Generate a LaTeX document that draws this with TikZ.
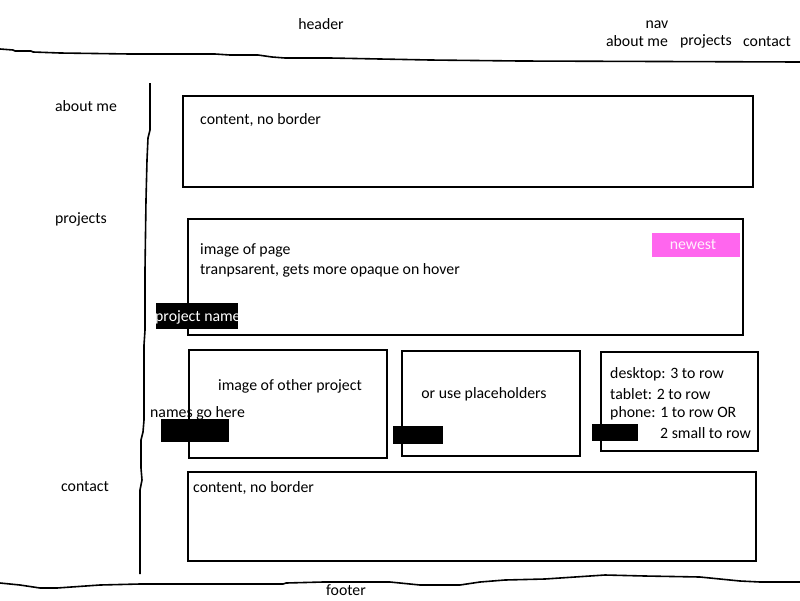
\documentclass[tikz,border=0pt]{standalone}
\usepackage{fontspec}
\setmainfont{Carlito}
\usepackage{tikz}

\definecolor{pinknew}{RGB}{255,102,238}

\tikzset{
  txt/.style={inner sep=0pt, yshift=-1.5pt, font=\fontsize{15.8}{19}\selectfont},
  lefttxt/.style={txt, anchor=west},
  box/.style={draw=black, line width=2pt},
  sketch/.style={line width=1.6pt, line join=round}
}

\begin{document}
\begin{tikzpicture}[x=1pt,y=-1pt]
    \useasboundingbox (0,0) rectangle (800,600);

    % header and nav
    \node[txt] (header) at (321,23) {header};
    \node[txt] (nav) at (657,23) {nav};
    \node[txt] (navabout) at (637,40) {about me};
    \node[txt] (navproj) at (706,40) {projects};
    \node[txt] (navcont) at (767,40) {contact};
    \draw[sketch] (0,49) -- (13,50) -- (15,51) -- (31,51) -- (33,52) -- (60,53)
      -- (130,54) -- (215,54) -- (230,55) -- (258,55) -- (272,57) -- (285,58)
      -- (330,58) -- (430,60) -- (520,61) -- (800,62);

    % side menu
    \node[txt] (sideabout) at (86,105) {about me};
    \node[txt] (sideproj) at (81,218) {projects};
    \node[txt] (sidecont) at (85,485) {contact};
    \draw[sketch] (150,83) -- (150,130) -- (148,138) -- (147,160) -- (146,200)
      -- (145,270) -- (145,330) -- (144,345) -- (144,420) -- (143,432) -- (141,440)
      -- (141,468) -- (142,480) -- (140,490) -- (140,574);

    % about me
    \draw[box] (183,96) rectangle (753,187);
    \node[lefttxt] (aboutc) at (200,119) {content, no border};

    % newest project
    \draw[box] (188,219) rectangle (743,335);
    \node[lefttxt] (img) at (200,249) {image of page};
    \node[lefttxt] (hover) at (200,269) {tranpsarent, gets more opaque on hover};
    \fill[pinknew] (652,233) rectangle (740,257);
    \node[txt, text=white!90!pinknew] (newest) at (693,243) {newest};
    \fill (156,303) rectangle (238,329);
    \node[lefttxt, text=white] (pname) at (155,316) {project name};

    % other projects
    \draw[box] (189,350) rectangle (387,458);
    \node[txt] (other) at (290,385) {image of other project};
    \node[lefttxt] (names) at (150,412) {names go here};
    \fill (161,419) rectangle (229,442);

    \draw[box] (402,351) rectangle (580,456);
    \node[txt] (placeh) at (484,393) {or use placeholders};
    \fill (393,426) rectangle (443,444);

    \draw[box] (601,352) rectangle (758,451);
    \node[lefttxt] (desk) at (610,373) {desktop: 3 to row};
    \node[lefttxt] (tab) at (610,393) {tablet: 2 to row};
    \node[lefttxt] (phone) at (610,412) {phone: 1 to row OR};
    \node[lefttxt] (small) at (660,432) {2 small to row};
    \fill (592,424) rectangle (638,441);

    % contact
    \draw[box] (188,472) rectangle (756,561);
    \node[lefttxt] (contc) at (193,487) {content, no border};

    % footer
    \draw[sketch] (0,583) -- (20,585) -- (40,588) -- (57,588) -- (100,585)
      -- (140,584) -- (283,584) -- (286,583) -- (323,582) -- (390,582)
      -- (400,583) -- (420,585) -- (460,585) -- (480,582) -- (505,580) -- (545,579)
      -- (560,578) -- (590,576) -- (605,575) -- (645,576) -- (700,577) -- (740,581)
      -- (760,582) -- (800,582);
    \node[txt] (footer) at (346,589) {footer};
\end{tikzpicture}
\end{document}
